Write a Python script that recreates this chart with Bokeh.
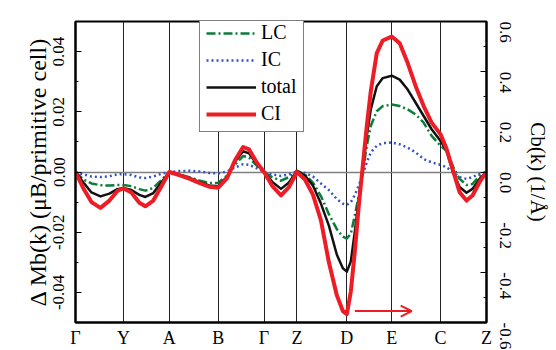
import math
from bokeh.plotting import figure
from bokeh.models import (Range1d, LinearAxis, FixedTicker, Legend, LegendItem,
                          Arrow, OpenHead, PrintfTickFormatter)
from bokeh.core.properties import value
from bokeh.embed import file_html
from bokeh.resources import INLINE

# ---------------- data ----------------
x_ticks = [0, 48, 94, 143, 189, 222, 272, 317, 366, 412]
x_labels = ["Γ", "Y", "A", "B", "Γ", "Z", "D", "E", "C", "Z"]

k_path = [0, 8, 16, 25, 34, 42, 48, 56, 64, 70, 78, 86, 94,
          104, 114, 124, 134, 143,
          152, 160, 168, 174, 182, 189,
          197, 206, 214, 222,
          230, 238, 246, 254, 262, 268, 272,
          276, 280, 284, 288, 292, 296, 302, 308, 317,
          325, 333, 341, 349, 357, 366,
          372, 378, 385, 392, 398, 405, 412]

lc = [0, -0.0025, -0.0038, -0.0044, -0.0045, -0.0043, -0.0043, -0.0047, -0.0057, -0.0062, -0.0053, -0.0027, 0,
      -0.0008, -0.0017, -0.0028, -0.0037, -0.0036,
      -0.0012, 0.0025, 0.0053, 0.0048, 0.0020, 0,
      -0.0017, -0.0029, -0.0017, 0.0003,
      -0.0008, -0.0035, -0.0080, -0.0140, -0.0190, -0.0215, -0.0221,
      -0.0205, -0.0144, -0.0078, 0.0000, 0.0087, 0.0153, 0.0202, 0.0219, 0.0224,
      0.0219, 0.0208, 0.0191, 0.0164, 0.0120, 0.0087,
      0.0070, 0.0021, -0.0023, -0.0043, -0.0040, -0.0012, 0]

ic = [0, -0.0008, -0.0015, -0.0017, -0.0014, -0.0008, -0.0007, -0.0010, -0.0018, -0.0020, -0.0015, -0.0006, 0,
      0.0003, 0.0004, 0.0002, -0.0003, -0.0005,
      0.0002, 0.0015, 0.0026, 0.0024, 0.0012, 0,
      -0.0008, -0.0013, -0.0008, 0.0001,
      -0.0003, -0.0015, -0.0038, -0.0060, -0.0090, -0.0105, -0.0109,
      -0.0100, -0.0077, -0.0044, -0.0007, 0.0032, 0.0065, 0.0087, 0.0096, 0.0098,
      0.0092, 0.0081, 0.0065, 0.0043, 0.0032, 0.0024,
      0.0016, 0.0000, -0.0017, -0.0023, -0.0017, -0.0006, 0]

total = [0, -0.0035, -0.0068, -0.0081, -0.0072, -0.0057, -0.0053, -0.0060, -0.0076, -0.0083, -0.0070, -0.0035, 0,
         -0.0009, -0.0020, -0.0033, -0.0045, -0.0047,
         -0.0015, 0.0035, 0.0069, 0.0062, 0.0025, 0,
         -0.0032, -0.0056, -0.0035, 0.0004,
         -0.0012, -0.0045, -0.0105, -0.0178, -0.0275, -0.0320, -0.0331,
         -0.0297, -0.0198, -0.0089, 0.0010, 0.0120, 0.0208, 0.0285, 0.0312, 0.0320,
         0.0307, 0.0274, 0.0230, 0.0186, 0.0142, 0.0103,
         0.0070, 0.0004, -0.0050, -0.0069, -0.0056, -0.0023, 0]

ci = [0, -0.0055, -0.0100, -0.0119, -0.0095, -0.0063, -0.0054, -0.0068, -0.0102, -0.0114, -0.0095, -0.0048, 0,
      -0.0010, -0.0022, -0.0036, -0.0049, -0.0052,
      -0.0020, 0.0040, 0.0083, 0.0075, 0.0030, 0,
      -0.0045, -0.0078, -0.0050, 0.0000,
      -0.0025, -0.0075, -0.0160, -0.0300, -0.0410, -0.0462, -0.0472,
      -0.0397, -0.0264, -0.0111, 0.0021, 0.0153, 0.0268, 0.0395, 0.0437, 0.0450,
      0.0428, 0.0362, 0.0285, 0.0219, 0.0164, 0.0125,
      0.0076, 0.0010, -0.0067, -0.0095, -0.0078, -0.0034, 0]

series_names = ["LC", "IC", "total", "CI"]
left_title = "Δ Mb(k) (μB/primitive cell)"
right_title = "Cb(k) (1/Å)"

left_ticks = [-0.04, -0.02, 0.0, 0.02, 0.04]
left_minor = [-0.05, -0.03, -0.01, 0.01, 0.03, 0.05]
right_ticks = [-0.6, -0.4, -0.2, 0.0, 0.2, 0.4, 0.6]
right_minor = [-0.5, -0.3, -0.1, 0.1, 0.3, 0.5]
arrow_x = [280, 337]
arrow_y = -0.0462

# ---------------- style ----------------
FONT = "Liberation Serif, DejaVu Serif, serif"
RED = "#ee1c25"
GREEN = "#0b7d3a"
BLUE = "#3454c4"
BLACK = "#111111"

p = figure(width=556, height=350, x_range=Range1d(0, 412), y_range=Range1d(-0.05, 0.05),
           output_backend="svg", toolbar_location=None,
           min_border_left=75, min_border_right=70, min_border_top=21, min_border_bottom=26)
p.background_fill_color = "white"
p.border_fill_color = "white"
p.outline_line_color = "black"
p.outline_line_width = 2

# grids
p.xgrid.ticker = FixedTicker(ticks=x_ticks)
p.xgrid.grid_line_color = "#222222"
p.xgrid.grid_line_width = 1
p.ygrid.ticker = FixedTicker(ticks=[0])
p.ygrid.grid_line_color = "#808080"
p.ygrid.grid_line_width = 1.5

# bottom axis
xa = p.xaxis[0]
xa.ticker = FixedTicker(ticks=x_ticks)
xa.major_label_overrides = {t: l for t, l in zip(x_ticks, x_labels)}
xa.major_tick_in = 0
xa.major_tick_out = 0
xa.minor_tick_in = 0
xa.minor_tick_out = 0
xa.axis_line_width = 2
xa.major_label_standoff = 5
xa.major_label_text_font = FONT
xa.major_label_text_font_size = "18px"
xa.major_label_text_color = "black"

# left axis
ya = p.yaxis[0]
ya.ticker = FixedTicker(ticks=left_ticks, minor_ticks=left_minor)
ya.formatter = PrintfTickFormatter(format="%.2f")
ya.major_tick_in = 6
ya.major_tick_out = 0
ya.minor_tick_in = 3
ya.minor_tick_out = 0
ya.axis_line_width = 2
ya.major_tick_line_width = 1.2
ya.minor_tick_line_width = 1.2
ya.major_label_orientation = "vertical"
ya.major_label_standoff = 11
ya.major_label_text_font = FONT
ya.major_label_text_font_size = "17px"
ya.major_label_text_color = "black"
ya.axis_label = left_title
ya.axis_label_text_font = FONT
ya.axis_label_text_font_size = "24px"
ya.axis_label_text_font_style = "normal"
ya.axis_label_text_color = "black"
ya.axis_label_standoff = 0

# right axis
p.extra_y_ranges = {"r": Range1d(-0.6, 0.6)}
ra = LinearAxis(y_range_name="r", ticker=FixedTicker(ticks=right_ticks, minor_ticks=right_minor),
                formatter=PrintfTickFormatter(format="%.1f"))
ra.major_tick_in = 6
ra.major_tick_out = 0
ra.minor_tick_in = 3
ra.minor_tick_out = 0
ra.axis_line_width = 2
ra.major_tick_line_width = 1.2
ra.minor_tick_line_width = 1.2
ra.major_label_orientation = -math.pi / 2
ra.major_label_standoff = 19
ra.major_label_text_font = FONT
ra.major_label_text_font_size = "17px"
ra.major_label_text_color = "black"
ra.axis_label = right_title
ra.axis_label_text_font = FONT
ra.axis_label_text_font_size = "21px"
ra.axis_label_text_font_style = "normal"
ra.axis_label_text_color = "black"
ra.axis_label_standoff = 6
p.add_layout(ra, "right")

# curves
r_lc = p.line(k_path, lc, line_color=GREEN, line_width=2.5, line_dash="9 3 2 3", line_join="round")
r_ic = p.line(k_path, ic, line_color=BLUE, line_width=2.5, line_dash="2 3", line_join="round")
r_tot = p.line(k_path, total, line_color=BLACK, line_width=2.5, line_join="round")
r_ci = p.line(k_path, ci, line_color=RED, line_width=4, line_join="round")

# arrow
p.add_layout(Arrow(end=OpenHead(size=11, line_color=RED, line_width=2),
                   x_start=arrow_x[0], y_start=arrow_y, x_end=arrow_x[1], y_end=arrow_y,
                   line_color=RED, line_width=2))

# legend (kept fully inside the frame)
legend = Legend(items=[LegendItem(label=value(n), renderers=[r])
                       for n, r in zip(series_names, [r_lc, r_ic, r_tot, r_ci])],
                location=(124, 190), border_line_color="black", border_line_width=1,
                background_fill_color="white", background_fill_alpha=1.0,
                label_text_font=FONT, label_text_font_size="20px", label_text_color="black",
                glyph_width=50, glyph_height=22, label_height=22, spacing=4, padding=6,
                margin=0, label_standoff=5)
p.add_layout(legend)

open("out.html", "w").write(file_html(p, INLINE))
